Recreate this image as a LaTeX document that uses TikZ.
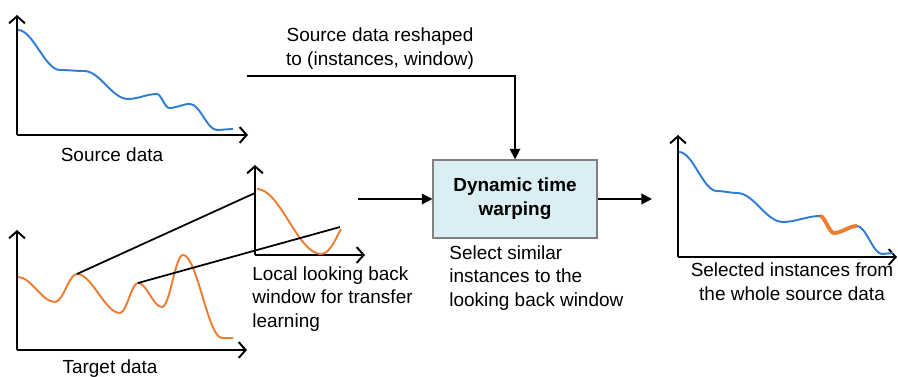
\documentclass[tikz,border=0pt]{standalone}
\usepackage{fontspec}
\setmainfont{Liberation Sans}
\usepackage{tikz}
\usepackage{xcolor}
\usetikzlibrary{arrows.meta}

\definecolor{srcblue}{HTML}{2F7DD1}
\definecolor{tgtorange}{HTML}{ED7D31}
\definecolor{boxfill}{HTML}{DAEEF3}
\definecolor{boxline}{HTML}{808080}

\begin{document}
\begin{tikzpicture}[x=0.02cm,y=-0.02cm,
		axis/.style={line width=1.1pt,-{Straight Barb[length=4pt,width=9pt]}},
		conn/.style={line width=1pt,-{Triangle[length=6pt,width=6pt]}},
		link/.style={line width=1pt},
		srccurve/.style={srcblue,line width=1.1pt},
		tgtcurve/.style={tgtorange,line width=1.1pt},
		lbl/.style={inner sep=0pt,font=\fontsize{10.8}{13.6}\selectfont}]
				\useasboundingbox (0,0) rectangle (898,377);
				
				% source data
				\draw[axis] (17,135)--(17,15);
				\draw[axis] (17,135)--(248,135);
				\draw[srccurve] (18,30) .. controls +(15,0) and +(-15,0) .. (60,70)
					.. controls +(9,0) and +(-9,0) .. (84,71)
					.. controls +(16,0) and +(-16,0) .. (128,99)
					.. controls +(10,0) and +(-10,0) .. (157,94)
					.. controls +(4,0) and +(-4,0) .. (169,108)
					.. controls +(8,0) and +(-8,0) .. (190,104)
					.. controls +(10,0) and +(-10,0) .. (217,130) -- (233,129);
				\node[lbl] (srclbl) at (112,155) {Source data};
				
				% target data
				\draw[axis] (17,350)--(17,230);
				\draw[axis] (17,350)--(247,350);
				\draw[tgtcurve] (18,277) .. controls +(13,0) and +(-13,0) .. (55,302)
					.. controls +(8,0) and +(-8,0) .. (77,274)
					.. controls +(15,0) and +(-15,0) .. (120,313)
					.. controls +(6.5,0) and +(-6.5,0) .. (138,283)
					.. controls +(9,0) and +(-9,0) .. (162,307)
					.. controls +(8,0) and +(-8,0) .. (183,255)
					.. controls +(14,0) and +(-14,0) .. (222,338) -- (233,338);
				\node[lbl] (tgtlbl) at (110,369) {Target data};
				
				% local looking back window
				\draw[axis] (255,255)--(255,165);
				\draw[axis] (255,255)--(365,255);
				\draw[tgtcurve] (257,189) .. controls +(23,0) and +(-23,0) .. (321,254) .. controls (330,254) and (336,238) .. (341,229);
				\node[lbl,anchor=west,align=left] (winlbl) at (252,299) {Local looking back\\window for transfer\\learning};
				
				\coordinate (t1) at (77,274);
				\coordinate (w1) at (255,193);
				\coordinate (t2) at (138,283);
				\coordinate (w2) at (340,227);
				\draw[link] (t1)--(w1);
				\draw[link] (t2)--(w2);
				
				% dtw box
				\node[draw=boxline,fill=boxfill,line width=0.8pt,minimum width=3.28cm,minimum height=1.56cm,align=center,lbl,font=\fontsize{10.8}{13.6}\selectfont\bfseries] (dtw) at (515,199) {Dynamic time\\warping};
				\node[lbl,anchor=west,align=left] (dtwlbl) at (449,278) {Select similar\\instances to the\\looking back window};
				
				\coordinate (reshape) at (247,76);
				\coordinate (win) at (358,199);
				\coordinate (sel) at (652,199);
				\draw[conn] (reshape) -| (dtw.north);
				\draw[conn] (win)--(dtw.west);
				\draw[conn] (dtw.east)--(sel);
				\node[lbl,align=center] (reshlbl) at (380,49) {Source data reshaped\\to (instances, window)};
				
				% selected instances
				\draw[axis] (678,257)--(678,135);
				\draw[axis] (678,257)--(897,257);
				\draw[srccurve] (679,152) .. controls +(14,0) and +(-14,0) .. (717,191)
					.. controls +(7,0) and +(-7,0) .. (737,193)
					.. controls +(17,0) and +(-17,0) .. (783,222)
					.. controls +(13,0) and +(-13,0) .. (820,216)
					.. controls +(5,0) and +(-5,0) .. (834,233)
					.. controls +(8,0) and +(-8,0) .. (857,226)
					.. controls +(9,0) and +(-9,0) .. (882,254) -- (893,253);
				\draw[tgtorange,line width=2.2pt] (820,216) .. controls +(5,0) and +(-5,0) .. (834,233)
					.. controls +(8,0) and +(-8,0) .. (857,226);
				\node[lbl,align=center] (sellbl) at (792,282) {Selected instances from\\the whole source data};
			\end{tikzpicture}
\end{document}
